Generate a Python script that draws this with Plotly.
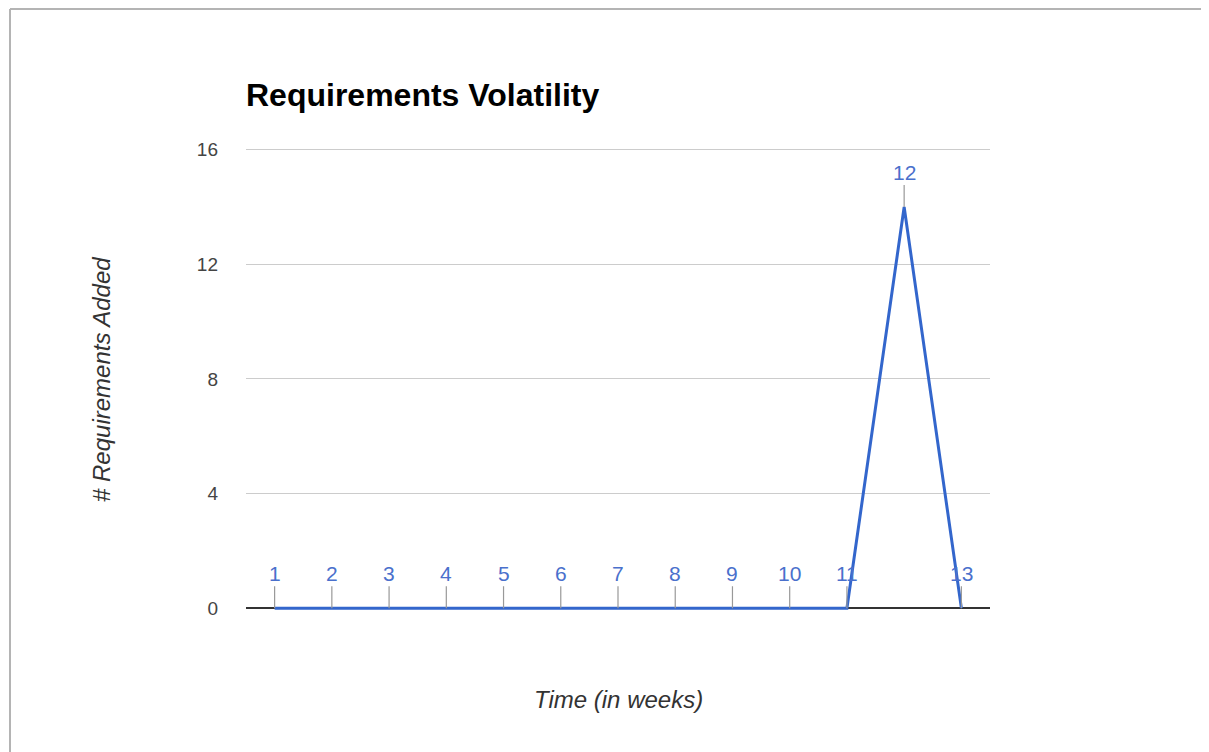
import plotly.graph_objects as go

weeks = [1, 2, 3, 4, 5, 6, 7, 8, 9, 10, 11, 12, 13]
added = [0, 0, 0, 0, 0, 0, 0, 0, 0, 0, 0, 14, 0]
point_labels = [str(w) for w in weeks]
y_ticks = [0, 4, 8, 12, 16]

FONT = "Arial, 'Liberation Sans', sans-serif"
BLUE = "#3366cc"

fig = go.Figure()
fig.add_trace(go.Scatter(
    x=weeks, y=added, mode="lines",
    line=dict(color=BLUE, width=3),
    hoverinfo="x+y", showlegend=False,
))

annotations = []
for w, v, lab in zip(weeks, added, point_labels):
    annotations.append(dict(
        x=w, y=v, xref="x", yref="y", text=lab,
        showarrow=True, arrowhead=0, arrowwidth=1.2, arrowcolor="#999999",
        ax=0, ay=-35, standoff=0,
        font=dict(family=FONT, size=21, color="#4a70cc"),
    ))

annotations.append(dict(
    x=0.5, y=-0.1922, xref="paper", yref="paper", text="<i>Time (in weeks)</i>",
    showarrow=False, xanchor="center", yanchor="middle",
    font=dict(family=FONT, size=24, color="#333333"),
))
annotations.append(dict(
    x=-0.1935, y=0.499, xref="paper", yref="paper", text="<i># Requirements Added</i>",
    showarrow=False, xanchor="center", yanchor="middle", textangle=-90,
    font=dict(family=FONT, size=24, color="#333333"),
))

shapes = [
    dict(type="line", xref="paper", yref="paper", x0=-0.3172, x1=1.35, y0=1.3002, y1=1.3002,
         line=dict(color="#b4b4b4", width=2)),
    dict(type="line", xref="paper", yref="paper", x0=-0.3172, x1=-0.3172, y0=1.3002, y1=-0.33,
         line=dict(color="#b4b4b4", width=2)),
]

fig.update_layout(
    width=1209, height=752,
    margin=dict(l=238, r=227, t=140, b=149),
    paper_bgcolor="white", plot_bgcolor="white",
    title=dict(text="<b>Requirements Volatility</b>", x=238/1209, xanchor="left",
               y=1 - 87/752, yanchor="middle", xref="container", yref="container",
               font=dict(family=FONT, size=32, color="#000000")),
    xaxis=dict(range=[0.5, 13.5], showgrid=False, showticklabels=False, zeroline=False,
               showline=False, ticks=""),
    yaxis=dict(range=[-0.1, 16.06], tickvals=y_ticks, ticktext=[str(t) for t in y_ticks],
               showgrid=True, gridcolor="#cccccc", gridwidth=1,
               zeroline=True, zerolinecolor="#333333", zerolinewidth=1.5,
               showline=False, ticks="", ticklabelstandoff=27,
               tickfont=dict(family=FONT, size=19, color="#444444")),
    annotations=annotations,
    shapes=shapes,
    font=dict(family=FONT),
)

fig.write_html("out.html")
